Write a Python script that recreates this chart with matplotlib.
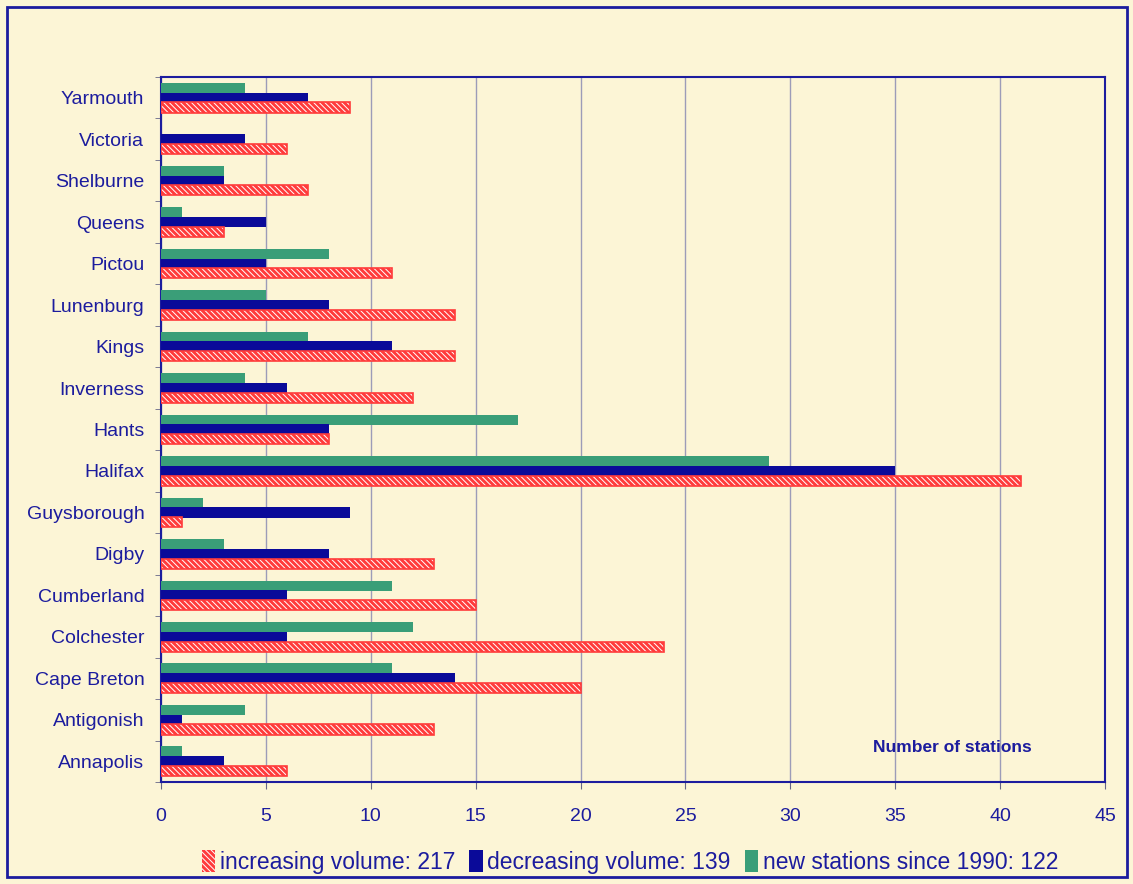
import numpy as np
import matplotlib
matplotlib.use("Agg")
import matplotlib.pyplot as plt
from matplotlib.patches import Patch, Rectangle

# county names, bottom to top as drawn
counties = ['Annapolis', 'Antigonish', 'Cape Breton', 'Colchester', 'Cumberland',
            'Digby', 'Guysborough', 'Halifax', 'Hants', 'Inverness', 'Kings',
            'Lunenburg', 'Pictou', 'Queens', 'Shelburne', 'Victoria', 'Yarmouth']
increasing = [6, 13, 20, 24, 15, 13, 1, 41, 8, 12, 14, 14, 11, 3, 7, 6, 9]
decreasing = [3, 1, 14, 6, 6, 8, 9, 35, 8, 6, 11, 8, 5, 5, 3, 4, 7]
new_stations = [1, 4, 11, 12, 11, 3, 2, 29, 17, 4, 7, 5, 8, 1, 3, 0, 4]

legend_labels = ['increasing volume: 217', 'decreasing volume: 139',
                 'new stations since 1990: 122']
xticks = [0, 5, 10, 15, 20, 25, 30, 35, 40, 45]

bg = '#FCF5D6'
navy = '#1C1C9E'
red = '#FF3B3B'
blue = '#0A0A99'
green = '#3A9E78'

plt.rcParams['hatch.linewidth'] = 0.7

fig = plt.figure(figsize=(11.33, 8.84), dpi=100, facecolor=bg)
ax = fig.add_axes([0.1421, 0.1154, 0.8332, 0.7975], facecolor=bg)

y = np.arange(len(counties))
h = 0.245
off = 0.235

ax.barh(y + off, new_stations, height=h, color=green, zorder=3)
ax.barh(y, decreasing, height=h, color=blue, zorder=3)
# hatched red bars: white hatch on red, with a red outline on top
ax.barh(y - off, increasing, height=h, color=red, edgecolor='white',
        hatch='\\\\\\\\\\\\', linewidth=0, zorder=3)
ax.barh(y - off, increasing, height=h, fill=False, edgecolor=red,
        linewidth=1.2, zorder=4)

ax.set_xlim(0, 45)
ax.set_ylim(-0.5, len(counties) - 0.5)
ax.set_xticks(xticks)
ax.set_xticklabels([str(t) for t in xticks], family='Liberation Sans',
                   fontsize=14, color=navy)
ax.set_yticks(y)
ax.set_yticklabels(counties, family='Liberation Sans', fontsize=14, color=navy)
ax.set_yticks(np.arange(len(counties) + 1) - 0.5, minor=True)
ax.tick_params(axis='y', which='major', length=0, pad=12)
ax.tick_params(axis='y', which='minor', length=4, color='#666688')
ax.tick_params(axis='x', length=5, color='#666688', pad=14)

ax.grid(axis='x', color='#9C9CB8', linewidth=1, zorder=0)
for s in ax.spines.values():
    s.set_color(navy)
    s.set_linewidth(1.5)

ax.text(0.838, 0.049, 'Number of stations', transform=ax.transAxes, ha='center',
        va='center', fontsize=12.5, fontweight='bold', color=navy,
        family='Liberation Sans')

handles = [Patch(facecolor=red, edgecolor='white', hatch='\\\\\\\\\\\\', linewidth=0),
           Patch(facecolor=blue), Patch(facecolor=green)]
fig.legend(handles, legend_labels, loc='center', bbox_to_anchor=(0.556, 1 - 862 / 884),
           ncol=3, frameon=False, handlelength=0.6, handleheight=1.1,
           handletextpad=0.2, columnspacing=0.6,
           prop={'family': 'Liberation Sans', 'size': 16.5},
           labelcolor=navy)

fig.patches.append(Rectangle((7 / 1133, 7 / 884), 1120 / 1133, 870 / 884,
                             transform=fig.transFigure, fill=False,
                             edgecolor=navy, linewidth=2))

fig.savefig('out.png', dpi=100, facecolor=bg)
